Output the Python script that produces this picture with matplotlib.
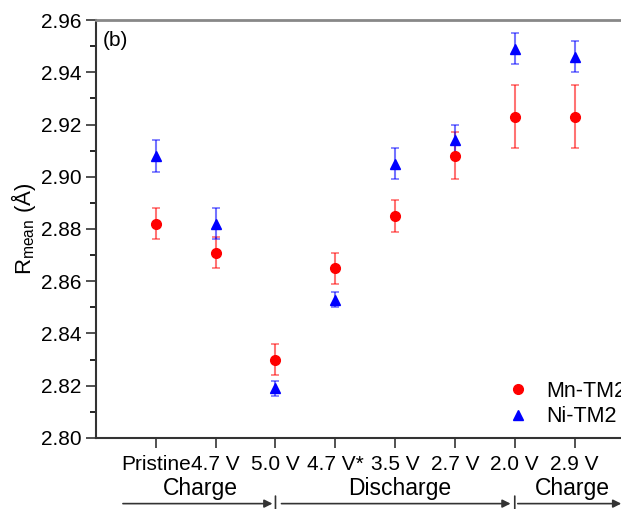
import matplotlib
matplotlib.use("Agg")
from matplotlib import pyplot as plt
from matplotlib.ticker import MultipleLocator

plt.rcParams['font.family'] = ['Liberation Sans', 'DejaVu Sans']
plt.rcParams['mathtext.fontset'] = 'custom'
plt.rcParams['mathtext.rm'] = 'Liberation Sans'
plt.rcParams['mathtext.it'] = 'Liberation Sans:italic'

# data
states = ["Pristine", "4.7 V", "5.0 V", "4.7 V*", "3.5 V", "2.7 V", "2.0 V", "2.9 V"]
mn_r = [2.882, 2.871, 2.830, 2.865, 2.885, 2.908, 2.923, 2.923]
mn_err = [0.006, 0.006, 0.006, 0.006, 0.006, 0.009, 0.012, 0.012]
ni_r = [2.908, 2.882, 2.819, 2.853, 2.905, 2.914, 2.949, 2.946]
ni_err = [0.006, 0.006, 0.003, 0.003, 0.006, 0.006, 0.006, 0.006]

x = list(range(1, len(states) + 1))

fig = plt.figure(figsize=(6.21, 5.09), dpi=100)
ax = fig.add_axes([0.1546, 0.1395, 0.867, 0.8212])

ax.errorbar(x, mn_r, yerr=mn_err, fmt='none', ecolor=(1, 0, 0, 0.55), elinewidth=1.5, capsize=3, capthick=1.2)
ax.errorbar(x, ni_r, yerr=ni_err, fmt='none', ecolor=(0, 0, 1, 0.55), elinewidth=1.5, capsize=3, capthick=1.2)
ax.plot(x, mn_r, 'o', color='red', markersize=7, linestyle='none', label='Mn-TM2')
ax.plot(x, ni_r, '^', color='blue', markersize=7.5, linestyle='none', label='Ni-TM2')

ax.set_xlim(0, 9)
ax.set_ylim(2.80, 2.96)
ax.set_xticks(x)
ax.set_xticklabels(states, fontsize=15)
ax.yaxis.set_major_locator(MultipleLocator(0.02))
ax.yaxis.set_minor_locator(MultipleLocator(0.01))
ax.yaxis.set_major_formatter(matplotlib.ticker.FormatStrFormatter('%.2f'))
ax.tick_params(axis='y', labelsize=15, direction='out', length=7, width=1.2, colors='#333333', labelcolor='black')
ax.tick_params(axis='y', which='minor', length=4, width=1.2)
ax.tick_params(axis='x', direction='out', length=7, width=1.2, colors='#333333', labelcolor='black', pad=5)

for s in ['left', 'bottom']:
    ax.spines[s].set_linewidth(1.5)
    ax.spines[s].set_color('#333333')
ax.spines['top'].set_linewidth(2)
ax.spines['top'].set_color('#888888')
ax.spines['right'].set_visible(False)

ax.set_ylabel(r'R$_{\rm mean}$ (Å)', fontsize=16, labelpad=2)
ax.text(0.12, 2.952, '(b)', fontsize=15, va='center')

ax.legend(loc='lower left', bbox_to_anchor=(0.744, 0.005), frameon=False, fontsize=15.5,
          handletextpad=0.7, borderaxespad=0, labelspacing=0.2, handlelength=1.2)

# charge / discharge arrows under the axis
tr = ('data', 'axes fraction')
ya = -0.157
arrows = [(0.45, 2.95), (3.1, 6.93), (7.05, 8.78)]
for x0, x1 in arrows:
    ax.annotate('', xy=(x1, ya), xytext=(x0, ya), xycoords=tr, textcoords=tr,
                arrowprops=dict(arrowstyle='-|>', color='#333333', lw=1.2, mutation_scale=12,
                                shrinkA=0, shrinkB=0), annotation_clip=False)
for xb in [3, 7]:
    ax.annotate('', xy=(xb, ya - 0.018), xytext=(xb, ya + 0.018), xycoords=tr, textcoords=tr,
                arrowprops=dict(arrowstyle='-', color='#333333', lw=1.2, shrinkA=0, shrinkB=0),
                annotation_clip=False)
stages = ["Charge", "Discharge", "Charge"]
stage_x = [1.74, 5.08, 7.96]
for s, sx in zip(stages, stage_x):
    ax.text(sx, -0.12, s, transform=ax.get_xaxis_transform(), ha='center', va='center', fontsize=16.5)

plt.savefig("out.png", dpi=100)
